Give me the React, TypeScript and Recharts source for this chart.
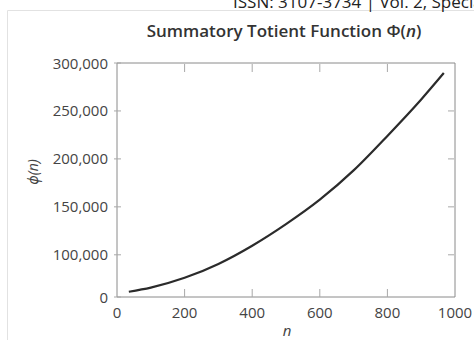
import React from 'react'
import { LineChart, Line, XAxis, YAxis } from 'recharts'

// values (n, Φ(n) as drawn against the printed axis)
const nValues = [35, 100, 200, 300, 400, 500, 600, 700, 800, 900, 967]
const phiValues = [61500, 65800, 76000, 90500, 109500, 132000, 157500, 188000, 224000, 262000, 289600]

const xTicks = [0, 200, 400, 600, 800, 1000]
const xTickLabels = ['0', '200', '400', '600', '800', '1000']
// the printed axis jumps from 0 straight to 100,000 at the bottom corner
const yTicks = [56000, 100000, 150000, 200000, 250000, 300000]
const yTickLabels = ['0', '100,000', '150,000', '200,000', '250,000', '300,000']

const chartData = nValues.map((n, i) => ({ n, phi: phiValues[i] }))

const FONT = '"Open Sans", "Noto Sans", sans-serif'
const FRAME = '#8a8a8a'
const TICK = '#a8a8a8'
const LABEL = '#444'

const LeftTick = (props: any) => {
  const { x, y, index } = props
  return (
    <g>
      <line x1={x - 3} y1={y} x2={x + 4} y2={y} stroke={TICK} />
      <text x={x - 9} y={y} dy={5.5} textAnchor="end" fill={LABEL} fontSize={15} fontFamily={FONT}>
        {yTickLabels[index]}
      </text>
    </g>
  )
}

const BottomTick = (props: any) => {
  const { x, y, index } = props
  return (
    <g>
      {index > 0 && index < xTicks.length - 1 && (
        <line x1={x} y1={y} x2={x} y2={y - 8} stroke={TICK} />
      )}
      <text x={x} y={y + 21} textAnchor="middle" fill={LABEL} fontSize={15} fontFamily={FONT}>
        {xTickLabels[index]}
      </text>
    </g>
  )
}

const TopTick = (props: any) => {
  const { x, y, index } = props
  if (index === 0 || index === xTicks.length - 1) return <g />
  return <line x1={x} y1={y + 1} x2={x} y2={y + 9} stroke={TICK} />
}

const RightTick = (props: any) => {
  const { x, y, index } = props
  if (index === 0 || index === yTicks.length - 1) return <g />
  return <line x1={x - 1} y1={y} x2={x - 7} y2={y} stroke={TICK} />
}

export default function App() {
  return (
    <div
      style={{
        position: 'absolute',
        left: 0,
        top: 0,
        width: 474,
        height: 340,
        background: '#fff',
        overflow: 'hidden',
      }}
    >
      <LineChart
        width={474}
        height={340}
        data={chartData}
        margin={{ top: 62, right: 18, bottom: 0, left: 0 }}
      >
        <XAxis
          dataKey="n"
          type="number"
          domain={[0, 1000]}
          ticks={xTicks}
          interval={0}
          height={43}
          tickSize={0}
          tickMargin={0}
          tickLine={false}
          axisLine={{ stroke: FRAME }}
          tick={<BottomTick />}
        />
        <XAxis
          xAxisId="top"
          dataKey="n"
          type="number"
          orientation="top"
          domain={[0, 1000]}
          ticks={xTicks}
          interval={0}
          height={1}
          tickSize={0}
          tickMargin={0}
          tickLine={false}
          axisLine={{ stroke: FRAME }}
          tick={<TopTick />}
        />
        <YAxis
          type="number"
          domain={[56000, 300000]}
          ticks={yTicks}
          interval={0}
          width={117}
          tickSize={0}
          tickMargin={0}
          tickLine={false}
          axisLine={{ stroke: FRAME }}
          tick={<LeftTick />}
        />
        <YAxis
          yAxisId="right"
          type="number"
          orientation="right"
          domain={[56000, 300000]}
          ticks={yTicks}
          interval={0}
          width={1}
          tickSize={0}
          tickMargin={0}
          tickLine={false}
          axisLine={{ stroke: FRAME }}
          tick={<RightTick />}
        />
        {/* invisible twin so the top/right frame axes get drawn */}
        <Line
          xAxisId="top"
          yAxisId="right"
          dataKey="phi"
          type="monotone"
          stroke="none"
          dot={false}
          activeDot={false}
          legendType="none"
          isAnimationActive={false}
        />
        <Line
          dataKey="phi"
          type="monotone"
          stroke="#2b2b2b"
          strokeWidth={2.2}
          dot={false}
          isAnimationActive={false}
        />
      </LineChart>

      <svg
        width={474}
        height={340}
        style={{ position: 'absolute', left: 0, top: 0, pointerEvents: 'none' }}
      >
        <line x1={7.5} y1={10.5} x2={474} y2={10.5} stroke="#e2e2e2" />
        <line x1={7.5} y1={10.5} x2={7.5} y2={340} stroke="#e2e2e2" />
        <text x={233} y={8} fontSize={17} fill="#222" fontFamily={FONT}>
          ISSN: 3107-3734 | Vol. 2, Special Issue
        </text>
        <text
          x={284}
          y={37}
          textAnchor="middle"
          fontSize={17}
          fontWeight={600}
          fill="#333"
          fontFamily={FONT}
        >
          Summatory Totient Function Φ(<tspan fontStyle="italic">n</tspan>)
        </text>
        <text
          x={287}
          y={336}
          textAnchor="middle"
          fontSize={15}
          fontStyle="italic"
          fill={LABEL}
          fontFamily={FONT}
        >
          n
        </text>
        <text
          transform="translate(38 172) rotate(-90)"
          textAnchor="middle"
          fontSize={14}
          fontStyle="italic"
          fill={LABEL}
          fontFamily={FONT}
        >
          ϕ(n)
        </text>
      </svg>
    </div>
  )
}
